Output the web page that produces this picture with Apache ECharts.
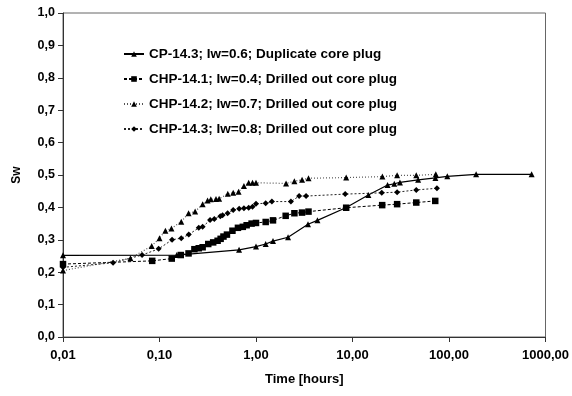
<!DOCTYPE html>
<html>
<head>
<meta charset="utf-8">
<script src="https://cdn.jsdelivr.net/npm/echarts@6/dist/echarts.min.js"></script>
<style>html,body{margin:0;padding:0;background:#fff}#c{width:572px;height:396px}</style>
</head>
<body>
<div id="c"></div>
<script>
var seriesNames = [
  'CP-14.3; Iw=0.6; Duplicate core plug',
  'CHP-14.1; Iw=0.4; Drilled out core plug',
  'CHP-14.2; Iw=0.7; Drilled out core plug',
  'CHP-14.3; Iw=0.8; Drilled out core plug'
];
var xTickValues = [0.01, 0.1, 1, 10, 100, 1000];

var cpTime = [0.01, 0.151, 0.668, 1.0, 1.26, 1.5, 2.15, 3.46, 4.33, 8.53, 14.6, 23.1, 27.1, 31.0, 47.9, 72.3, 96, 191, 718];
var cpSw   = [0.252, 0.253, 0.269, 0.279, 0.287, 0.296, 0.308, 0.348, 0.36, 0.399, 0.438, 0.469, 0.473, 0.477, 0.485, 0.491, 0.496, 0.502, 0.502];

var chp141Time = [0.01, 0.084, 0.134, 0.166, 0.2, 0.23, 0.255, 0.28, 0.32, 0.36, 0.4, 0.43, 0.46, 0.5, 0.57, 0.65, 0.73, 0.8, 0.9, 1.0, 1.26, 1.5, 2.03, 2.5, 3.0, 3.5, 8.6, 20.3, 29, 45.8, 72];
var chp141Sw   = [0.225, 0.235, 0.242, 0.253, 0.258, 0.271, 0.274, 0.277, 0.287, 0.292, 0.297, 0.303, 0.31, 0.316, 0.328, 0.337, 0.34, 0.345, 0.35, 0.352, 0.355, 0.36, 0.374, 0.382, 0.384, 0.387, 0.399, 0.407, 0.41, 0.415, 0.42];

var chp142Time = [0.01, 0.05, 0.083, 0.1, 0.115, 0.133, 0.168, 0.2, 0.234, 0.28, 0.315, 0.34, 0.385, 0.415, 0.51, 0.58, 0.66, 0.75, 0.84, 0.92, 1.0, 2.05, 2.5, 3.0, 3.5, 8.6, 20.4, 29, 45.8, 73];
var chp142Sw   = [0.205, 0.243, 0.281, 0.305, 0.328, 0.335, 0.356, 0.382, 0.387, 0.41, 0.421, 0.425, 0.426, 0.427, 0.442, 0.445, 0.448, 0.466, 0.476, 0.476, 0.476, 0.474, 0.481, 0.485, 0.49, 0.492, 0.495, 0.499, 0.499, 0.502];

var chp143Time = [0.01, 0.033, 0.066, 0.098, 0.135, 0.168, 0.201, 0.255, 0.28, 0.334, 0.37, 0.427, 0.45, 0.508, 0.58, 0.67, 0.75, 0.84, 0.92, 1.0, 1.26, 1.46, 2.3, 2.8, 3.3, 8.4, 20.1, 29, 45.8, 75];
var chp143Sw   = [0.215, 0.229, 0.253, 0.272, 0.3, 0.305, 0.316, 0.337, 0.34, 0.361, 0.364, 0.373, 0.376, 0.382, 0.392, 0.396, 0.397, 0.399, 0.402, 0.411, 0.413, 0.418, 0.418, 0.435, 0.435, 0.441, 0.445, 0.447, 0.454, 0.459];

function pairs(t, v) { return t.map(function (x, i) { return [x, v[i]]; }); }

var chart = echarts.init(document.getElementById('c'), null, {renderer: 'canvas'});
var font = 'Liberation Sans, Arial, sans-serif';
var axisCol = '#333';

function mk(name, t, v, symbol, size, lineType, width, color) {
  return {
    name: name, type: 'line', data: pairs(t, v),
    symbol: symbol, symbolSize: size, showSymbol: true,
    itemStyle: {color: '#000'},
    lineStyle: {color: color, width: width, type: lineType},
    emphasis: {disabled: true}, animation: false, z: 3
  };
}

chart.setOption({
  backgroundColor: '#fff',
  animation: false,
  grid: {left: 63, top: 13, right: 24, bottom: 59, show: true, borderColor: '#666', borderWidth: 1, backgroundColor: 'transparent'},
  legend: {
    orient: 'vertical', left: 118, top: 42, itemGap: 11, itemWidth: 20, itemHeight: 7,
    textStyle: {fontFamily: font, fontWeight: 'bold', fontSize: 13.5, color: '#000'},
    data: seriesNames
  },
  xAxis: {
    type: 'log', logBase: 10, min: 0.01, max: 1000,
    name: 'Time [hours]', nameLocation: 'middle', nameGap: 36,
    nameTextStyle: {fontFamily: font, fontWeight: 'bold', fontSize: 13, color: '#000'},
    axisLine: {lineStyle: {color: axisCol}},
    axisTick: {show: true, length: 5, lineStyle: {color: axisCol}},
    minorTick: {show: false},
    splitLine: {show: false},
    axisLabel: {fontFamily: font, fontWeight: 'bold', fontSize: 13, color: '#000', margin: 12,
      formatter: function (v) {
        var best = xTickValues.reduce(function (a, b) { return Math.abs(Math.log10(b) - Math.log10(v)) < Math.abs(Math.log10(a) - Math.log10(v)) ? b : a; });
        return best.toFixed(2).replace('.', ',');
      }}
  },
  yAxis: {
    type: 'value', min: 0, max: 1, interval: 0.1,
    name: 'Sw', nameLocation: 'middle', nameGap: 40, nameRotate: 90,
    nameTextStyle: {fontFamily: font, fontWeight: 'bold', fontSize: 12, color: '#000'},
    axisLine: {show: true, lineStyle: {color: axisCol}},
    axisTick: {show: true, length: 5, lineStyle: {color: axisCol}},
    splitLine: {show: false},
    axisLabel: {fontFamily: font, fontWeight: 'bold', fontSize: 12.5, color: '#000', margin: 8,
      formatter: function (v) { return v.toFixed(1).replace('.', ','); }}
  },
  series: [
    mk(seriesNames[0], cpTime, cpSw, 'triangle', 6, 'solid', 1.2, '#000'),
    mk(seriesNames[1], chp141Time, chp141Sw, 'rect', 6.5, [3, 2], 1, '#000'),
    mk(seriesNames[2], chp142Time, chp142Sw, 'triangle', 6, [1, 2], 1.2, '#555'),
    mk(seriesNames[3], chp143Time, chp143Sw, 'diamond', 6, [2, 2], 1, '#222')
  ]
});
</script>
</body>
</html>
